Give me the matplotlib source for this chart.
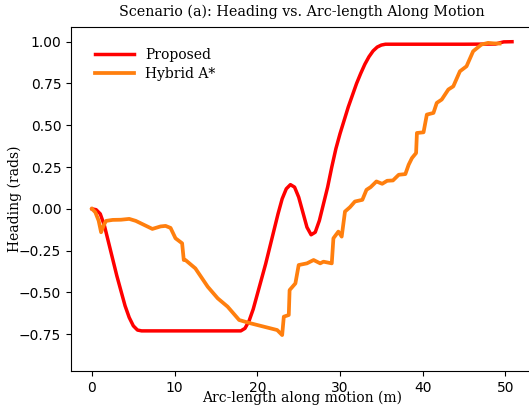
import matplotlib
matplotlib.use("Agg")
import matplotlib.pyplot as plt

# Proposed method heading profile
proposed_s = [0.0, 0.5, 1.0, 1.5, 2.0, 2.5, 3.0, 3.5, 4.0, 4.5, 5.0, 5.5, 6.0,
              10.0, 14.0, 18.0, 18.5, 19.0, 19.5, 20.0, 20.5, 21.0, 21.5, 22.0,
              22.5, 23.0, 23.5, 24.0, 24.5, 25.0, 25.5, 26.0, 26.5, 27.0, 27.5,
              28.0, 28.5, 29.0, 29.5, 30.0, 30.5, 31.0, 31.5, 32.0, 32.5, 33.0,
              33.5, 34.0, 34.5, 35.0, 35.5, 40.0, 45.0, 48.8, 49.3, 49.8, 50.8]
proposed_h = [0.0, -0.005, -0.03, -0.1, -0.2, -0.3, -0.4, -0.49, -0.58, -0.65,
              -0.70, -0.725, -0.73, -0.73, -0.73, -0.73, -0.715, -0.67, -0.6,
              -0.51, -0.42, -0.33, -0.23, -0.13, -0.03, 0.06, 0.12, 0.145, 0.13,
              0.07, -0.02, -0.11, -0.155, -0.14, -0.07, 0.03, 0.13, 0.25, 0.36,
              0.45, 0.53, 0.61, 0.68, 0.75, 0.81, 0.865, 0.91, 0.945, 0.968,
              0.98, 0.985, 0.985, 0.985, 0.986, 0.993, 0.999, 1.0]

# Hybrid A* heading profile
hybrid_s = [0.0, 0.4, 0.8, 1.1, 1.4, 1.7, 2.5, 3.5, 4.5, 5.3, 6.3, 7.3, 8.3,
            8.9, 9.5, 10.1, 10.9, 11.1, 11.3, 12.5, 14.0, 15.2, 16.4, 17.8,
            19.2, 22.4, 23.0, 23.2, 23.8, 23.9, 24.6, 25.0, 26.0, 26.8, 27.6,
            28.0, 29.0, 29.2, 29.8, 30.2, 30.6, 31.2, 31.8, 32.7, 33.2, 33.7,
            34.4, 35.1, 35.7, 36.4, 37.1, 37.9, 38.3, 38.7, 39.2, 39.3, 40.1,
            40.5, 41.3, 41.7, 42.3, 43.1, 43.7, 44.5, 45.3, 46.1, 47.1, 47.9,
            48.6, 49.3]
hybrid_h = [0.0, -0.02, -0.07, -0.14, -0.1, -0.072, -0.066, -0.065, -0.06,
            -0.072, -0.096, -0.12, -0.105, -0.102, -0.114, -0.176, -0.206,
            -0.306, -0.306, -0.356, -0.466, -0.535, -0.585, -0.665, -0.685,
            -0.725, -0.755, -0.645, -0.635, -0.486, -0.446, -0.336, -0.326,
            -0.306, -0.326, -0.316, -0.326, -0.176, -0.136, -0.166, -0.016,
            0.01, 0.044, 0.054, 0.114, 0.13, 0.164, 0.15, 0.168, 0.17, 0.204,
            0.208, 0.264, 0.304, 0.334, 0.454, 0.458, 0.564, 0.574, 0.634,
            0.654, 0.714, 0.733, 0.823, 0.853, 0.943, 0.983, 0.993, 0.99, 0.989]

W, H = 529, 409
fig = plt.figure(figsize=(W / 100, H / 100), dpi=100)
ax = fig.add_axes([71 / W, 38 / H, (533 - 71) / W, (371 - 27) / H])

ax.plot(proposed_s, proposed_h, color="#ff0000", lw=2.5, label="Proposed")
ax.plot(hybrid_s, hybrid_h, color="#ff7f0e", lw=2.7, label="Hybrid A*")

ax.set_xlim(-2.54, 53.34)
ax.set_ylim(-0.97, 1.088)
ax.set_xticks([0, 10, 20, 30, 40, 50])
ax.set_yticks([-0.75, -0.5, -0.25, 0.0, 0.25, 0.5, 0.75, 1.0])

serif = "DejaVu Serif"
ax.set_title("Scenario (a): Heading vs. Arc-length Along Motion",
             fontfamily=serif, fontsize=10.3, pad=8)
ax.set_xlabel("Arc-length along motion (m)", fontfamily=serif,
              fontsize=10, labelpad=-3)
ax.set_ylabel("Heading (rads)", fontfamily=serif, fontsize=10)
ax.yaxis.set_label_coords(-0.106, 0.5)
ax.legend(loc="upper left", frameon=False,
          prop={"family": serif, "size": 10}, handlelength=2.8,
          labelspacing=0.35, bbox_to_anchor=(0.025, 0.975))

fig.savefig("out.png", dpi=100)
